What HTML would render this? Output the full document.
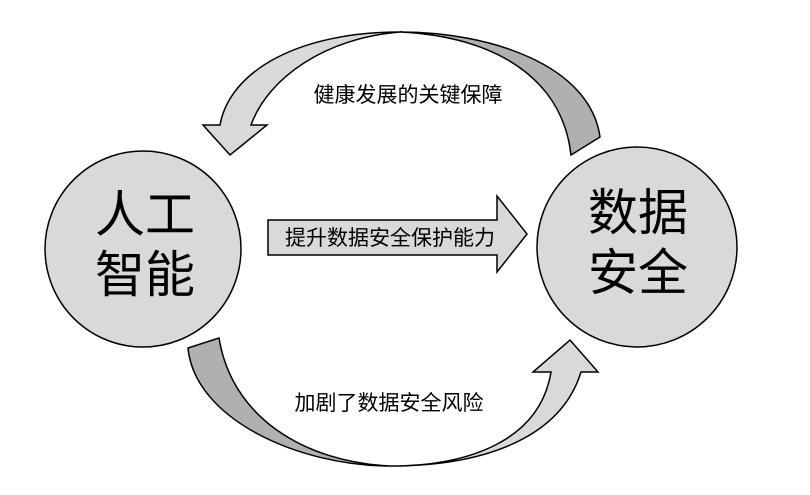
<!DOCTYPE html>
<html><head><meta charset="utf-8"><style>
html,body{margin:0;padding:0;background:#fff;}
svg{display:block;}
text{font-family:"Liberation Sans","Noto Sans CJK SC",sans-serif;fill:#000;}
</style></head><body>
<svg width="810" height="495" viewBox="0 0 810 495" xmlns="http://www.w3.org/2000/svg">
<g stroke="#000" stroke-width="1.5" stroke-linejoin="miter">
<path d="M600,137 C590,65 490,32 400,32 C490,36 562,75 571,155 Z" fill="#b0b0b0"/>
<path d="M400,32 C300,32 230,70 220,125 L203,125 L230,155 L267,125 L251,125 C268,78 325,38 400,32 Z" fill="#d9d9d9"/>
<path d="M188,348 C195,420 300,466 390,466 C305,462 232,418 219,338 Z" fill="#b0b0b0"/>
<path d="M390,466 C470,466 540,440 551,372 L533,372 L570,340 L598,372 L581,372 C560,440 480,466 390,466 Z" fill="#d9d9d9"/>
<path d="M268,220 L497,220 L497,196 L527,234 L497,272 L497,255 L268,255 Z" fill="#d9d9d9"/>
<circle cx="143" cy="249" r="98" fill="#d9d9d9"/>
<circle cx="637" cy="247" r="100" fill="#d9d9d9"/>
</g>
<text x="408" y="102" font-size="21" text-anchor="middle">健康发展的关键保障</text>
<text x="390" y="245" font-size="21" text-anchor="middle">提升数据安全保护能力</text>
<text x="389" y="410" font-size="21" text-anchor="middle">加剧了数据安全风险</text>
<text x="145" y="232" font-size="50" text-anchor="middle">人工</text>
<text x="145" y="292" font-size="50" text-anchor="middle">智能</text>
<text x="638" y="230" font-size="50" text-anchor="middle">数据</text>
<text x="638" y="290" font-size="50" text-anchor="middle">安全</text>
</svg>
</body></html>
